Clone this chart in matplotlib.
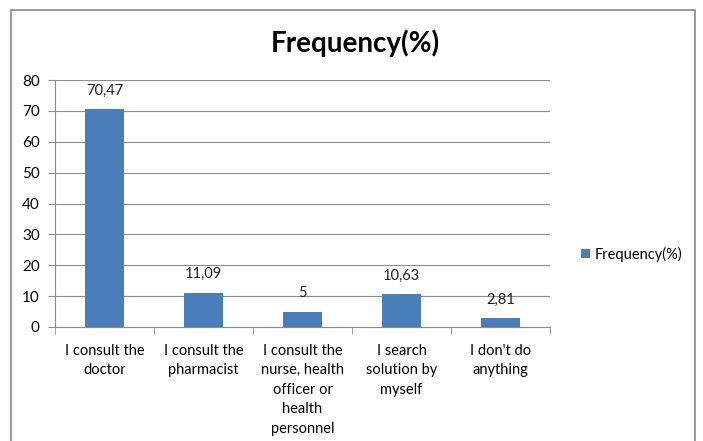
import matplotlib
matplotlib.use("Agg")
import matplotlib.pyplot as plt
from matplotlib.patches import Rectangle
import numpy as np

categories = ["I consult the\ndoctor", "I consult the\npharmacist",
              "I consult the\nnurse, health\nofficer or\nhealth\npersonnel",
              "I search\nsolution by\nmyself", "I don't do\nanything"]
values = [70.47, 11.09, 5, 10.63, 2.81]
value_labels = ["70,47", "11,09", "5", "10,63", "2,81"]
series_name = "Frequency(%)"
yticks = [0, 10, 20, 30, 40, 50, 60, 70, 80]

plt.rcParams['font.family'] = ['Lato', 'DejaVu Sans']

fig = plt.figure(figsize=(7.03, 4.41), dpi=100)
W, H = 703, 441
ax = fig.add_axes([55 / W, 1 - 327 / H, (550 - 55) / W, (327 - 80) / H])

bar_color = "#4a7ebb"
x = np.arange(len(categories))
bars = ax.bar(x, values, width=0.4, color=bar_color, label=series_name, zorder=3)

for xi, v, lab in zip(x, values, value_labels):
    ax.text(xi, v + 3.8, lab, ha="center", va="bottom", fontsize=10.5, color="#222222")

ax.set_xlim(-0.5, len(categories) - 0.5)
ax.set_ylim(0, 80)
ax.set_yticks(yticks)
ax.set_yticklabels([str(t) for t in yticks], fontsize=11)
ax.yaxis.grid(True, color="#8c8c8c", linewidth=0.8, zorder=0)
ax.set_axisbelow(True)

ax.set_xticks(x)
ax.set_xticklabels(categories, fontsize=10.5, linespacing=1.5, va="top")
ax.tick_params(axis="x", which="major", length=0, pad=12)
ax.set_xticks(np.arange(-0.5, len(categories)), minor=True)
ax.tick_params(axis="x", which="minor", length=5, color="#8c8c8c", direction="out")
ax.tick_params(axis="y", length=5, color="#8c8c8c", direction="out", pad=6)

for s in ["top", "right"]:
    ax.spines[s].set_visible(False)
ax.spines["left"].set_color("#8c8c8c")
ax.spines["bottom"].set_color("#8c8c8c")

fig.text(355 / W, 1 - 43 / H, "Frequency(%)", ha="center", va="center",
         fontsize=20, fontweight="bold", color="black")

leg = fig.legend(handles=[bars], labels=[series_name], loc="center left",
                 bbox_to_anchor=(568 / W, 1 - 254 / H), frameon=False, fontsize=10.5,
                 handlelength=0.6, handleheight=0.6, handletextpad=0.3)

fig.patches.append(Rectangle((11 / W, -0.05), (695 - 11) / W, 1.05 - 10 / H,
                             transform=fig.transFigure, fill=False,
                             edgecolor="#888888", linewidth=1.2))

fig.savefig("out.png", dpi=100, facecolor="white")
